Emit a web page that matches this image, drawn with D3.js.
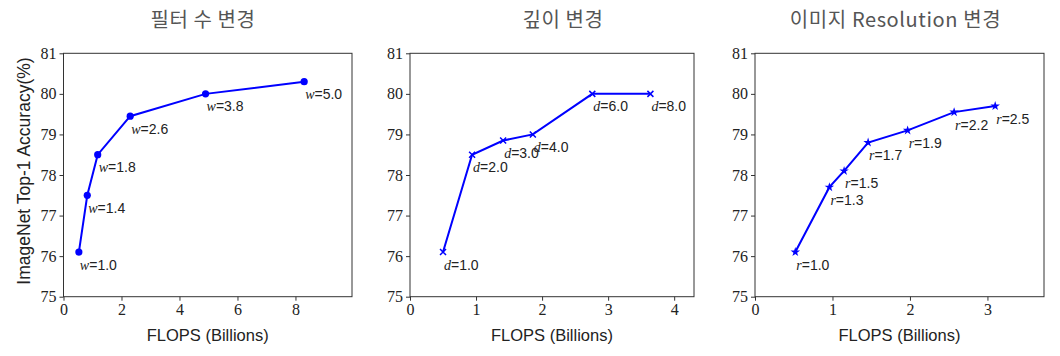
<!DOCTYPE html>
<html><head><meta charset="utf-8">
<script src="https://cdn.jsdelivr.net/npm/d3@7"></script>
<style>
body{margin:0;background:#fff;}
svg{display:block;}
</style></head>
<body>
<svg id="c" width="1060" height="356"></svg>
<script>
// ---- data ----
const titles = ["필터 수 변경", "깊이 변경", "이미지 Resolution 변경"];
const yTicks = [75, 76, 77, 78, 79, 80, 81];

const wFlops = [0.53, 0.82, 1.18, 2.3, 4.9, 8.3];
const wAcc = [76.1, 77.5, 78.5, 79.45, 80.0, 80.3];
const wLabels = ["1.0", "1.4", "1.8", "2.6", "3.8", "5.0"];
const wTicks = [0, 2, 4, 6, 8];

const dFlops = [0.5, 0.94, 1.41, 1.86, 2.76, 3.64];
const dAcc = [76.1, 78.5, 78.85, 79.0, 80.0, 80.0];
const dLabels = ["1.0", "2.0", "3.0", "4.0", "6.0", "8.0"];
const dTicks = [0, 1, 2, 3, 4];

const rFlops = [0.52, 0.96, 1.15, 1.46, 1.97, 2.57, 3.1];
const rAcc = [76.1, 77.7, 78.1, 78.8, 79.1, 79.55, 79.7];
const rLabels = ["1.0", "1.3", "1.5", "1.7", "1.9", "2.2", "2.5"];
const rTicks = [0, 1, 2, 3];

// ---- layout ----
const svg = d3.select("#c");
const plotTop = 53.3, plotBottom = 296.7;
const y = d3.scaleLinear().domain([75, 81]).range([plotBottom, plotTop]);

const panels = [
  {title: titles[0], tx: 203, x0: 63.5, x1: 352, xmax: 9.95, xs: wFlops, ys: wAcc, labels: wLabels, v: "w", ticks: wTicks, marker: "circle", ylabel: true},
  {title: titles[1], tx: 563, x0: 410, x1: 694, xmax: 4.3, xs: dFlops, ys: dAcc, labels: dLabels, v: "d", ticks: dTicks, marker: "x", ylabel: false},
  {title: titles[2], tx: 895.5, x0: 755, x1: 1044, xmax: 3.73, xs: rFlops, ys: rAcc, labels: rLabels, v: "r", ticks: rTicks, marker: "star", ylabel: false}
];

const blue = "#0000ff";
const spine = "#333";
const serif = "'Liberation Serif', 'DejaVu Serif', serif";
const sans = "'Liberation Sans', Arial, sans-serif";

panels.forEach(p => {
  const x = d3.scaleLinear().domain([0, p.xmax]).range([p.x0, p.x1]);
  const g = svg.append("g");

  // title
  svg.append("text").attr("x", p.tx).attr("y", 27)
    .attr("text-anchor", "middle")
    .attr("font-family", "'Noto Sans CJK KR', sans-serif")
    .attr("font-size", 20).attr("letter-spacing", 0.6).attr("fill", "#555")
    .text(p.title);

  // axes
  const xAxis = d3.axisBottom(x).tickValues(p.ticks).tickFormat(d3.format("d")).tickSize(4).tickPadding(3);
  const yAxis = d3.axisLeft(y).tickValues(yTicks).tickFormat(d3.format("d")).tickSize(4).tickPadding(3);
  const gx = g.append("g").attr("transform", `translate(0,${plotBottom})`).call(xAxis);
  const gy = g.append("g").attr("transform", `translate(${p.x0},0)`).call(yAxis);
  [gx, gy].forEach(a => {
    a.select(".domain").remove();
    a.selectAll(".tick line").attr("stroke", spine).attr("stroke-width", 1);
    a.selectAll(".tick text").attr("font-family", serif).attr("font-size", 16).attr("fill", "#222");
  });

  // frame
  g.append("rect").attr("x", p.x0).attr("y", plotTop)
    .attr("width", p.x1 - p.x0).attr("height", plotBottom - plotTop)
    .attr("fill", "none").attr("stroke", spine).attr("stroke-width", 1);

  // axis labels
  g.append("text").attr("x", (p.x0 + p.x1) / 2).attr("y", 341)
    .attr("text-anchor", "middle").attr("font-family", sans).attr("font-size", 16.5).attr("fill", "#222")
    .text("FLOPS (Billions)");
  if (p.ylabel) {
    g.append("text").attr("transform", `translate(30,${(plotTop + plotBottom) / 2 - 4}) rotate(-90)`)
      .attr("text-anchor", "middle").attr("font-family", sans).attr("font-size", 17.5).attr("fill", "#222")
      .text("ImageNet Top-1 Accuracy(%)");
  }

  // line
  const pts = p.xs.map((v, i) => [v, p.ys[i]]);
  g.append("path").datum(pts)
    .attr("d", d3.line().x(d => x(d[0])).y(d => y(d[1])))
    .attr("fill", "none").attr("stroke", blue).attr("stroke-width", 2);

  // markers
  const m = g.selectAll(".m").data(pts).enter().append("g")
    .attr("transform", d => `translate(${x(d[0])},${y(d[1])})`);
  if (p.marker === "circle") {
    m.append("circle").attr("r", 3.6).attr("fill", blue);
  } else if (p.marker === "x") {
    m.append("path").attr("d", "M-3,-3L3,3M-3,3L3,-3").attr("stroke", blue).attr("stroke-width", 1.5);
  } else {
    m.append("path").attr("d", d3.symbol(d3.symbolStar, 28)()).attr("fill", blue);
  }

  // point labels
  const lt = g.selectAll(".lab").data(pts).enter().append("text")
    .attr("x", d => x(d[0]) + 1).attr("y", d => y(d[1]) + 17.5)
    .attr("font-size", 14).attr("fill", "#222");
  lt.append("tspan").attr("font-family", serif).attr("font-style", "italic").text(p.v);
  lt.append("tspan").attr("font-family", sans).text((d, i) => "=" + p.labels[i]);
});
</script>
</body></html>
